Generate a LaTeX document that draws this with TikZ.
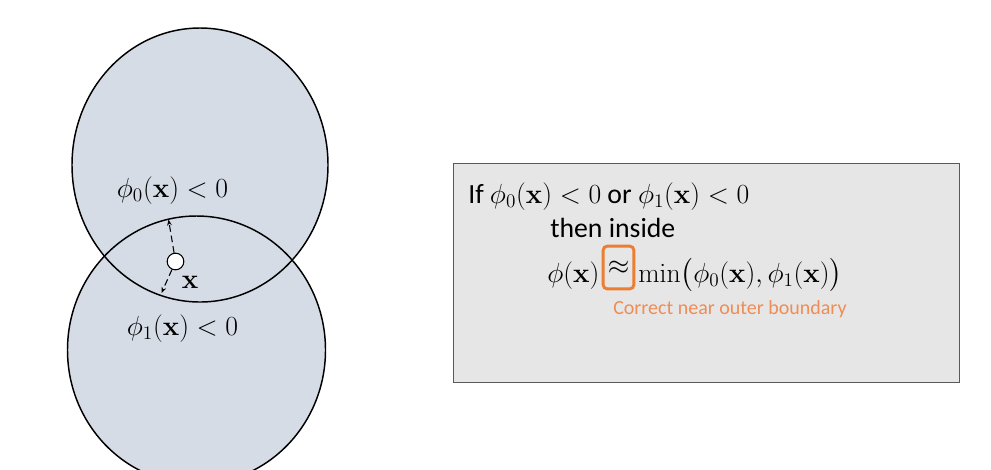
\documentclass[tikz,border=0pt]{standalone}
\usepackage{amsmath}
\usepackage[no-math]{fontspec}
\setmainfont{Carlito}
\usetikzlibrary{arrows.meta}
\definecolor{circfill}{HTML}{D6DCE5}
\definecolor{boxfill}{HTML}{E7E6E6}
\definecolor{boxline}{HTML}{595959}
\definecolor{orng}{HTML}{ED7D31}
\definecolor{orngtext}{HTML}{EE8D55}
\newcommand\bigsz{\fontsize{20.8}{24}\selectfont}
\newcommand\smallsz{\fontsize{15}{18}\selectfont}
\begin{document}
\begin{tikzpicture}[x=0.75pt,y=-0.75pt,
  outline/.style={draw=black, line width=1.1pt},
  dasharrow/.style={draw=black, line width=0.8pt, dash pattern=on 5pt off 3pt, -{Stealth[length=4.5pt,width=3.5pt]}},
  lbl/.style={anchor=base west, inner sep=0pt, font=\bigsz},
  panel/.style={draw=boxline, fill=boxfill, line width=0.9pt},
  approxbox/.style={draw=orng, line width=2.2pt, rounded corners=3pt, minimum width=23pt, minimum height=32pt, inner sep=0pt, font=\bigsz}]
\useasboundingbox (0,0) rectangle (991,469);
\clip (0,0) rectangle (991,469);
% filled discs
\fill[circfill] (200,165) ellipse [x radius=96pt, y radius=102.75pt];
\fill[circfill] (196.5,350) ellipse [x radius=96.75pt, y radius=100.5pt];
% outlines
\draw[outline] (200,165) ellipse [x radius=96pt, y radius=102.75pt];
\draw[outline] (196.5,350) ellipse [x radius=96.75pt, y radius=100.5pt];
% labels
\node[lbl] (l0) at (116.7,197) {$\phi_0(\mathbf{x})<0$};
\node[lbl] (l1) at (126.7,335) {$\phi_1(\mathbf{x})<0$};
% point x
\node[circle, draw=black, fill=white, line width=0.8pt, minimum size=12.5pt, inner sep=0pt] (p) at (175.5,261.5) {};
\node[lbl] (xl) at (181.5,288) {$\mathbf{x}$};
\coordinate (t1) at (168.5,219.5);
\coordinate (t0) at (161.5,293);
\draw[dasharrow] (p) -- (t1);
\draw[dasharrow] (p) -- (t0);
% panel
\node[panel, anchor=north west, minimum width=379.7pt, minimum height=164.3pt, inner sep=0pt] (panel) at (452.7,162.7) {};
\node[lbl] (line1) at (468,203) {If $\phi_0(\mathbf{x})<0$ or $\phi_1(\mathbf{x})<0$};
\node[lbl] (line2) at (550,237) {then inside};
\node[lbl] (phix) at (547,282) {$\phi(\mathbf{x})$};
\node[approxbox] (approx) at (618.5,267.5) {$\approx$};
\node[lbl] (minp) at (638,282) {$\min\bigl(\phi_0(\mathbf{x}),\phi_1(\mathbf{x})\bigr)$};
\node[anchor=base west, inner sep=0pt, font=\smallsz, text=orngtext] (note) at (613,314) {Correct near outer boundary};
\end{tikzpicture}
\end{document}
